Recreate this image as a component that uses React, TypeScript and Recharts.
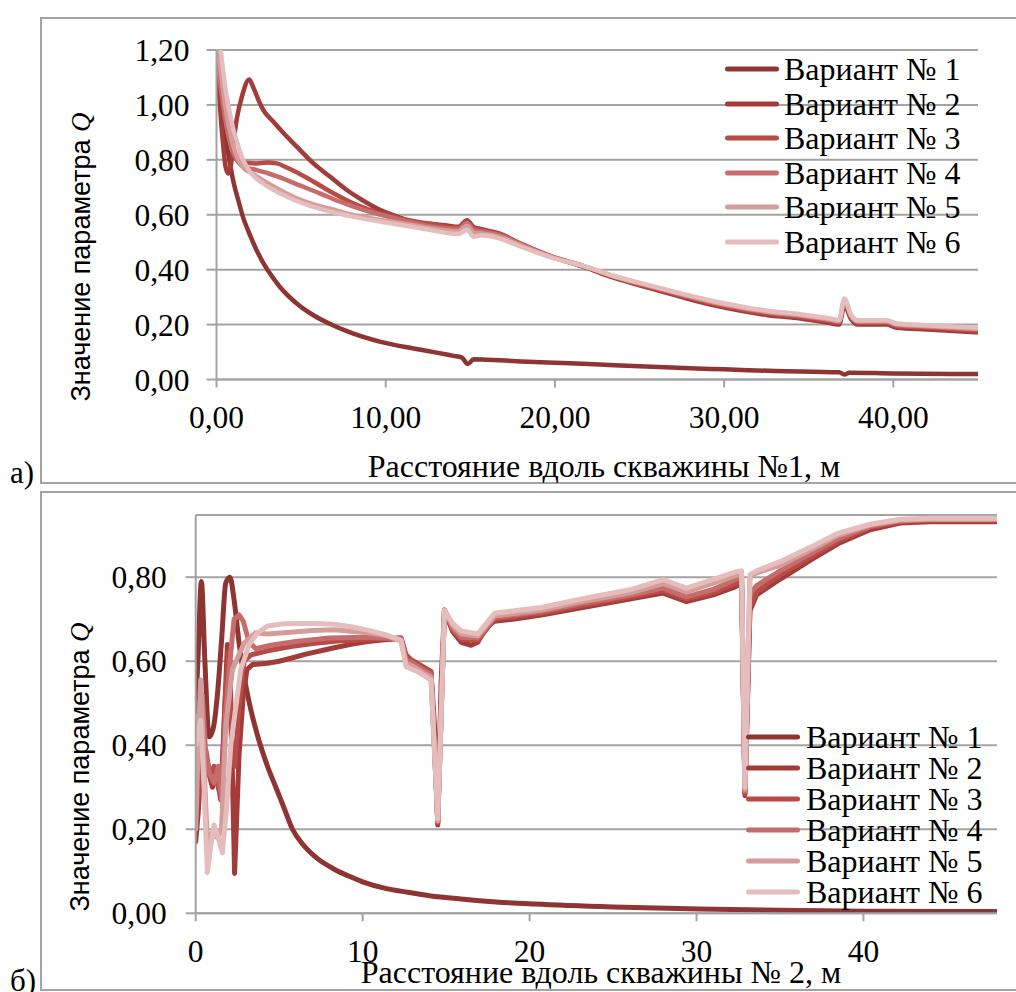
import React from 'react';
import { LineChart, Line, XAxis, YAxis, CartesianGrid, Legend } from 'recharts';

const SERIF = "'Liberation Serif', 'Times New Roman', serif";
const SANS = "'Liberation Sans', Arial, sans-serif";

const seriesNames = ['Вариант № 1', 'Вариант № 2', 'Вариант № 3', 'Вариант № 4', 'Вариант № 5', 'Вариант № 6'];
const seriesColors = ['#8E3432', '#A33B39', '#B84A47', '#C66D6B', '#D49C9A', '#E4BDBC'];

// ---- Panel a) ----
const topXTicks = [0, 10, 20, 30, 40];
const topYTicks = [0, 0.2, 0.4, 0.6, 0.8, 1.0, 1.2];

const topS1X = [0, 0.2, 0.4, 0.7, 1.0, 1.3, 1.6, 1.86, 2.3, 2.76, 3.2, 3.75, 4.74, 5.73, 6.72, 7.7, 9.7, 11.65, 13.0, 14.0, 14.5, 14.85, 15.2, 16, 18, 20, 22, 25, 28, 30, 33, 36.8, 37.1, 37.4, 40, 45];
const topS1Q = [1.2, 1.05, 0.93, 0.82, 0.72, 0.65, 0.585, 0.544, 0.48, 0.425, 0.382, 0.337, 0.277, 0.234, 0.202, 0.176, 0.137, 0.113, 0.098, 0.086, 0.08, 0.056, 0.074, 0.072, 0.066, 0.061, 0.056, 0.048, 0.041, 0.037, 0.031, 0.026, 0.018, 0.025, 0.022, 0.02];

const topS2X = [0, 0.2, 0.4, 0.55, 0.7, 0.85, 1.0, 1.2, 1.5, 1.93, 2.2, 2.5, 2.76, 3.36, 4.0, 4.74, 5.73, 6.72, 7.7, 8.7, 9.68, 10.6, 11.65, 12.6, 13.5, 14.3, 14.8, 15.2, 15.6, 16.7, 17.9, 19.8, 21.7, 23.5, 25.6, 27.5, 29.4, 31, 32.5, 34.5, 36.3, 36.8, 37.1, 37.5, 37.9, 39.6, 40.2, 42, 45];
const topS2Q = [1.2, 1.0, 0.85, 0.77, 0.75, 0.78, 0.86, 0.95, 1.03, 1.093, 1.06, 1.015, 0.982, 0.939, 0.895, 0.848, 0.787, 0.738, 0.69, 0.65, 0.617, 0.595, 0.574, 0.567, 0.562, 0.556, 0.58, 0.555, 0.548, 0.532, 0.496, 0.447, 0.41, 0.37, 0.333, 0.3, 0.27, 0.25, 0.235, 0.222, 0.205, 0.2, 0.27, 0.22, 0.2, 0.2, 0.188, 0.182, 0.172];

const topS3X = [0, 0.3, 0.6, 0.9, 1.2, 1.5, 2.37, 3.0, 3.56, 4.15, 5.33, 6.72, 8.1, 9.7, 11, 12.6, 14.3, 14.8, 15.2, 15.6, 16.7, 17.9, 19.8, 21.7, 23.5, 25.6, 27.5, 29.4, 31, 32.5, 34.5, 36.3, 36.8, 37.1, 37.5, 37.9, 39.6, 40.2, 42, 45];
const topS3Q = [1.2, 1.05, 0.92, 0.84, 0.8, 0.79, 0.787, 0.79, 0.787, 0.772, 0.735, 0.685, 0.641, 0.605, 0.585, 0.567, 0.552, 0.575, 0.55, 0.545, 0.53, 0.497, 0.448, 0.412, 0.373, 0.337, 0.305, 0.275, 0.256, 0.241, 0.228, 0.212, 0.207, 0.28, 0.226, 0.206, 0.206, 0.194, 0.188, 0.178];

const topS4X = [0, 0.3, 0.6, 0.9, 1.2, 1.6, 2.37, 3.0, 3.75, 4.8, 6.1, 7.1, 8.1, 9.7, 11, 12.6, 14.3, 14.8, 15.2, 15.6, 16.7, 17.9, 19.8, 21.7, 23.5, 25.6, 27.5, 29.4, 31, 32.5, 34.5, 36.3, 36.8, 37.1, 37.5, 37.9, 39.6, 40.2, 42, 45];
const topS4Q = [1.2, 1.04, 0.92, 0.84, 0.8, 0.775, 0.763, 0.752, 0.736, 0.71, 0.678, 0.652, 0.63, 0.6, 0.58, 0.558, 0.548, 0.57, 0.545, 0.54, 0.526, 0.495, 0.448, 0.413, 0.375, 0.339, 0.308, 0.279, 0.26, 0.245, 0.232, 0.216, 0.211, 0.285, 0.23, 0.21, 0.21, 0.198, 0.192, 0.182];

const topS5X = [0.1, 0.4, 0.7, 1.0, 1.3, 1.6, 2.0, 2.76, 3.75, 4.74, 5.73, 6.72, 8, 10, 12, 14.3, 14.8, 15.2, 15.6, 16.7, 17.9, 19.8, 21.7, 23.5, 25.6, 27.5, 29.4, 31, 32.5, 34.5, 36.3, 36.8, 37.1, 37.5, 37.9, 39.6, 40.2, 42, 45];
const topS5Q = [1.2, 1.05, 0.93, 0.85, 0.8, 0.77, 0.755, 0.725, 0.69, 0.66, 0.638, 0.622, 0.6, 0.578, 0.558, 0.54, 0.56, 0.535, 0.533, 0.52, 0.49, 0.446, 0.413, 0.376, 0.341, 0.311, 0.282, 0.263, 0.248, 0.235, 0.219, 0.214, 0.29, 0.233, 0.213, 0.213, 0.201, 0.195, 0.185];

const topS6X = [0.25, 0.55, 0.79, 1.0, 1.19, 1.5, 2.0, 2.76, 3.75, 4.74, 5.73, 6.72, 8, 10, 12, 14.3, 14.8, 15.2, 15.6, 16.7, 17.9, 19.8, 21.7, 23.5, 25.6, 27.5, 29.4, 31, 32.5, 34.5, 36.3, 36.8, 37.1, 37.5, 37.9, 39.6, 40.2, 42, 45];
const topS6Q = [1.2, 1.05, 0.97, 0.91, 0.87, 0.81, 0.755, 0.714, 0.678, 0.65, 0.629, 0.612, 0.594, 0.572, 0.552, 0.53, 0.545, 0.52, 0.525, 0.514, 0.486, 0.444, 0.413, 0.377, 0.343, 0.313, 0.285, 0.266, 0.251, 0.238, 0.222, 0.217, 0.295, 0.236, 0.216, 0.216, 0.204, 0.198, 0.188];

// ---- Panel б) ----
const botXTicks = [0, 10, 20, 30, 40];
const botYTicks = [0, 0.2, 0.4, 0.6, 0.8];

const botS1X = [0, 0.15, 0.34, 0.55, 0.8, 1.05, 1.3, 1.55, 1.8, 2.05, 2.3, 2.6, 2.9, 3.3, 3.8, 4.3, 4.8, 5.3, 5.8, 6.4, 7.3, 8.3, 9.2, 10, 11.3, 12.7, 14, 15.9, 18, 20.3, 25, 30.2, 35, 40, 48];
const botS1Q = [0.48, 0.62, 0.79, 0.6, 0.42, 0.44, 0.52, 0.65, 0.786, 0.8, 0.746, 0.643, 0.564, 0.485, 0.41, 0.35, 0.3, 0.25, 0.2, 0.165, 0.13, 0.105, 0.088, 0.075, 0.06, 0.05, 0.042, 0.034, 0.027, 0.022, 0.015, 0.01, 0.007, 0.005, 0.004];

const botS2X = [0, 0.15, 0.35, 0.55, 0.75, 1.0, 1.25, 1.5, 1.7, 1.9, 2.05, 2.33, 2.6, 2.85, 3.07, 3.4, 4.3, 5.0, 5.7, 6.6, 7.5, 8.3, 9.3, 10.3, 11.3, 12.3, 12.6, 12.9, 13.5, 14.1, 14.3, 14.5, 14.7, 14.9, 15.4, 15.9, 16.5, 16.9, 17.4, 17.9, 19, 20.7, 23.1, 26, 28, 29.4, 31, 32.2, 32.7, 32.9, 33.2, 33.6, 35, 37, 38.5, 40.4, 42.2, 44, 48];
const botS2Q = [0.17, 0.24, 0.37, 0.39, 0.34, 0.3, 0.33, 0.27, 0.45, 0.64, 0.6, 0.095, 0.38, 0.52, 0.58, 0.592, 0.595, 0.6, 0.607, 0.617, 0.625, 0.632, 0.64, 0.647, 0.651, 0.654, 0.61, 0.6, 0.588, 0.572, 0.45, 0.21, 0.55, 0.72, 0.67, 0.645, 0.638, 0.645, 0.68, 0.695, 0.7, 0.71, 0.727, 0.748, 0.762, 0.742, 0.758, 0.775, 0.785, 0.28, 0.72, 0.758, 0.795, 0.845, 0.88, 0.913, 0.929, 0.932, 0.932];

const botS3X = [0, 0.2, 0.4, 0.6, 0.85, 1.1, 1.35, 1.55, 1.75, 1.97, 2.15, 2.35, 2.6, 2.9, 3.3, 4.3, 5.7, 7, 8.5, 10.3, 12.3, 12.6, 12.9, 14.1, 14.5, 14.9, 15.4, 15.9, 16.9, 17.9, 20.7, 23.1, 26, 28, 29.4, 31, 32.2, 32.7, 32.9, 33.2, 33.6, 35, 37, 38.5, 40.4, 42.2, 44, 48];
const botS3Q = [0.22, 0.3, 0.36, 0.39, 0.33, 0.35, 0.3, 0.28, 0.5, 0.62, 0.4, 0.35, 0.5, 0.6, 0.615, 0.625, 0.635, 0.642, 0.648, 0.652, 0.656, 0.615, 0.604, 0.576, 0.215, 0.722, 0.675, 0.652, 0.65, 0.7, 0.714, 0.732, 0.753, 0.768, 0.748, 0.763, 0.782, 0.792, 0.285, 0.73, 0.765, 0.805, 0.852, 0.886, 0.918, 0.932, 0.935, 0.935];

const botS4X = [0, 0.25, 0.4, 0.6, 0.85, 1.1, 1.35, 1.55, 1.8, 2.1, 2.3, 2.6, 2.85, 3.2, 3.6, 4.5, 6, 8, 10.3, 12.3, 12.6, 12.9, 14.1, 14.5, 14.9, 15.4, 15.9, 16.9, 17.9, 20.7, 23.1, 26, 28, 29.4, 31, 32.2, 32.7, 32.9, 33.2, 33.6, 35, 37, 38.5, 40.4, 42.2, 44, 48];
const botS4Q = [0.3, 0.5, 0.52, 0.38, 0.33, 0.31, 0.35, 0.27, 0.48, 0.62, 0.7, 0.71, 0.695, 0.645, 0.63, 0.638, 0.647, 0.655, 0.657, 0.653, 0.603, 0.598, 0.568, 0.218, 0.722, 0.678, 0.657, 0.655, 0.704, 0.718, 0.737, 0.757, 0.774, 0.753, 0.771, 0.792, 0.8, 0.29, 0.76, 0.78, 0.815, 0.86, 0.892, 0.921, 0.934, 0.937, 0.937];

const botS5X = [0, 0.15, 0.3, 0.5, 0.7, 0.95, 1.3, 1.55, 1.8, 2.2, 2.9, 3.6, 4.3, 5.3, 7, 8.3, 10.3, 11.5, 12.3, 12.6, 12.9, 14.1, 14.5, 14.9, 15.4, 15.9, 16.9, 17.9, 20.7, 23.1, 26, 28, 29.4, 31, 32.2, 32.7, 32.9, 33.2, 33.6, 35, 37, 38.5, 40.4, 42.2, 44, 48];
const botS5Q = [0.2, 0.4, 0.556, 0.35, 0.168, 0.19, 0.18, 0.2, 0.445, 0.58, 0.643, 0.668, 0.665, 0.668, 0.673, 0.675, 0.668, 0.66, 0.648, 0.595, 0.59, 0.562, 0.22, 0.722, 0.685, 0.665, 0.66, 0.708, 0.722, 0.742, 0.762, 0.785, 0.765, 0.786, 0.802, 0.808, 0.295, 0.8, 0.81, 0.828, 0.868, 0.9, 0.924, 0.936, 0.938, 0.938];

const botS6X = [0, 0.3, 0.5, 0.7, 0.9, 1.1, 1.35, 1.6, 1.85, 2.1, 2.7, 3.2, 3.7, 4.3, 5.3, 6.3, 7.3, 8.3, 9.3, 10.3, 11.3, 12.3, 12.6, 13.3, 14.1, 14.5, 14.9, 15.4, 15.9, 16.9, 17.9, 20.7, 23.1, 26, 28, 29.4, 31, 32.4, 32.7, 32.9, 33.2, 33.6, 35, 37, 38.5, 40.4, 42.2, 44, 48];
const botS6Q = [0.4, 0.46, 0.3, 0.097, 0.16, 0.21, 0.18, 0.144, 0.25, 0.4, 0.58, 0.64, 0.667, 0.684, 0.689, 0.69, 0.69, 0.688, 0.682, 0.674, 0.664, 0.65, 0.587, 0.575, 0.555, 0.225, 0.72, 0.69, 0.672, 0.665, 0.714, 0.728, 0.748, 0.77, 0.794, 0.774, 0.795, 0.813, 0.815, 0.3, 0.806, 0.815, 0.837, 0.875, 0.905, 0.926, 0.938, 0.94, 0.94];

const toPoints = (xs: number[], qs: number[]) => xs.map((x, i) => ({ x, q: qs[i] }));

const topSeries = [
  toPoints(topS1X, topS1Q),
  toPoints(topS2X, topS2Q),
  toPoints(topS3X, topS3Q),
  toPoints(topS4X, topS4Q),
  toPoints(topS5X, topS5Q),
  toPoints(topS6X, topS6Q),
];
const botSeries = [
  toPoints(botS1X, botS1Q),
  toPoints(botS2X, botS2Q),
  toPoints(botS3X, botS3Q),
  toPoints(botS4X, botS4Q),
  toPoints(botS5X, botS5Q),
  toPoints(botS6X, botS6Q),
];

const GRID = '#A3A3A3';
const tickStyle = { fontFamily: SERIF, fontSize: 31.5, fill: '#000' };
const comma2 = (v: number) => v.toFixed(2).replace('.', ',');

const makeLegend = (rowH: number, lineLeft: number, textLeft: number) => (props: any) => {
  const payload = props.payload || [];
  return (
    <div style={{ margin: 0, padding: 0 }}>
      {payload.map((p: any, i: number) => (
        <div key={i} style={{ display: 'flex', alignItems: 'center', height: rowH, whiteSpace: 'nowrap' }}>
          <svg width={textLeft} height={10} style={{ display: 'block', flex: 'none' }}>
            <line x1={lineLeft} x2={lineLeft + 49} y1={5} y2={5} stroke={p.color || seriesColors[i]} strokeWidth={5} strokeLinecap="round" />
          </svg>
          <span style={{ fontFamily: SERIF, fontSize: 32, lineHeight: `${rowH}px`, color: '#000' }}>{p.value}</span>
        </div>
      ))}
    </div>
  );
};

const yTitle = (cx: number, cy: number) => () => (
  <text x={cx} y={cy} transform={`rotate(-90 ${cx} ${cy})`} textAnchor="middle" dominantBaseline="central" fontSize={27} fill="#000">
    <tspan fontFamily={SANS}>Значение параметра </tspan>
    <tspan fontFamily={SERIF} fontStyle="italic">Q</tspan>
  </text>
);

const xTitle = (cx: number, baseline: number, txt: string) => () => (
  <text x={cx} y={baseline} textAnchor="middle" fontFamily={SERIF} fontSize={32} fill="#000">{txt}</text>
);

export default function App() {
  return (
    <div style={{ position: 'absolute', left: 0, top: 0, width: 1016, height: 992, overflow: 'hidden', background: '#fff' }}>
      <div style={{ position: 'absolute', left: 40, top: 17, width: 1010, height: 467, border: `2px solid ${GRID}`, boxSizing: 'border-box' }} />
      <div style={{ position: 'absolute', left: 40, top: 491, width: 1010, height: 500, border: `2px solid ${GRID}`, boxSizing: 'border-box' }} />

      <div style={{ position: 'absolute', left: 0, top: 0 }}>
        <LineChart width={1016} height={490} margin={{ top: 50, right: 38, left: 156.5, bottom: 50.5 }}>
          <CartesianGrid horizontal vertical={false} stroke={GRID} strokeWidth={2} />
          <XAxis
            type="number"
            dataKey="x"
            domain={[0, 45]}
            ticks={topXTicks}
            tickFormatter={comma2}
            height={60}
            tick={tickStyle}
            tickSize={8}
            tickMargin={18}
            axisLine={{ stroke: GRID, strokeWidth: 2 }}
            tickLine={{ stroke: GRID, strokeWidth: 2 }}
            allowDataOverflow
            label={xTitle(604, 477, 'Расстояние вдоль скважины №1, м')}
          />
          <YAxis
            type="number"
            domain={[0, 1.2]}
            ticks={topYTicks}
            tickFormatter={comma2}
            width={60}
            tick={tickStyle}
            tickSize={10}
            tickMargin={17}
            axisLine={{ stroke: GRID, strokeWidth: 2 }}
            tickLine={{ stroke: GRID, strokeWidth: 2 }}
            allowDataOverflow
            label={yTitle(81, 257)}
          />
          {topSeries.map((d, i) => (
            <Line
              key={i}
              data={d}
              dataKey="q"
              name={seriesNames[i]}
              type="monotone"
              stroke={seriesColors[i]}
              strokeWidth={4.5}
              dot={false}
              activeDot={false}
              isAnimationActive={false}
              strokeLinejoin="round"
              strokeLinecap="round"
            />
          ))}
          <Legend
            layout="horizontal"
            verticalAlign="middle"
            align="center"
            wrapperStyle={{ left: 720, top: 52, width: 290, height: 207 }}
            content={makeLegend(34.5, 7.5, 64)}
          />
        </LineChart>
      </div>

      <div style={{ position: 'absolute', left: 0, top: 490 }}>
        <LineChart width={1016} height={502} margin={{ top: 25, right: 19, left: 135.7, bottom: 18.7 }}>
          <CartesianGrid horizontal vertical={false} stroke={GRID} strokeWidth={2} />
          <XAxis
            type="number"
            dataKey="x"
            domain={[0, 48]}
            ticks={botXTicks}
            height={60}
            tick={tickStyle}
            tickSize={8}
            tickMargin={18}
            axisLine={{ stroke: GRID, strokeWidth: 2 }}
            tickLine={{ stroke: GRID, strokeWidth: 2 }}
            allowDataOverflow
            label={xTitle(601, 493, 'Расстояние вдоль скважины № 2, м')}
          />
          <YAxis
            type="number"
            domain={[0, 0.948]}
            ticks={botYTicks}
            tickFormatter={comma2}
            width={60}
            tick={tickStyle}
            tickSize={10}
            tickMargin={19}
            axisLine={{ stroke: GRID, strokeWidth: 2 }}
            tickLine={{ stroke: GRID, strokeWidth: 2 }}
            allowDataOverflow
            label={yTitle(80, 277)}
          />
          {botSeries.map((d, i) => (
            <Line
              key={i}
              data={d}
              dataKey="q"
              name={seriesNames[i]}
              type={i === 0 ? 'monotone' : 'linear'}
              stroke={seriesColors[i]}
              strokeWidth={5}
              dot={false}
              activeDot={false}
              isAnimationActive={false}
              strokeLinejoin="round"
              strokeLinecap="round"
            />
          ))}
          <Legend
            layout="horizontal"
            verticalAlign="middle"
            align="center"
            wrapperStyle={{ left: 741, top: 231.5, width: 275, height: 186 }}
            content={makeLegend(31, 7.5, 65)}
          />
        </LineChart>
      </div>

      <div style={{ position: 'absolute', left: 10, top: 455, fontFamily: SERIF, fontSize: 31, lineHeight: '36px', color: '#000' }}>а)</div>
      <div style={{ position: 'absolute', left: 10, top: 963, fontFamily: SERIF, fontSize: 31, lineHeight: '36px', color: '#000' }}>б)</div>
    </div>
  );
}
